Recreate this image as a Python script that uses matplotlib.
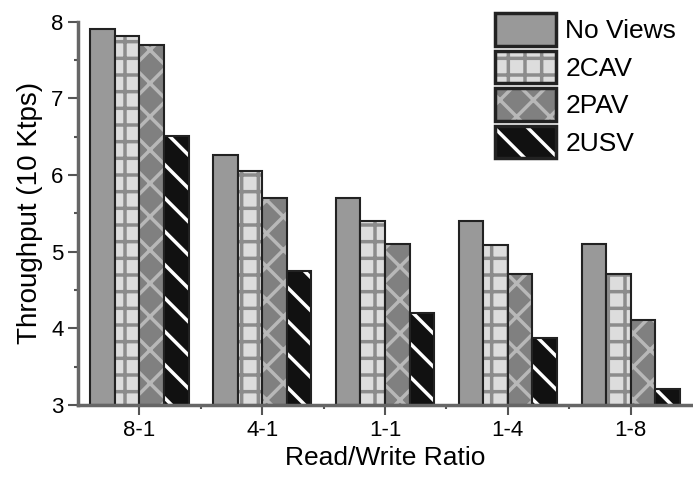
import matplotlib.pyplot as plt
import numpy as np
from matplotlib.patches import Patch

plt.rcParams['font.family'] = ['Liberation Sans', 'DejaVu Sans']
plt.rcParams['hatch.linewidth'] = 2.5

ratios = ['8-1', '4-1', '1-1', '1-4', '1-8']
series = ['No Views', '2CAV', '2PAV', '2USV']
no_views = [7.91, 6.26, 5.70, 5.40, 5.10]
cav = [7.82, 6.05, 5.40, 5.09, 4.71]
pav = [7.70, 5.70, 5.10, 4.71, 4.11]
usv = [6.51, 4.75, 4.20, 3.87, 3.21]

# fill colour, hatch pattern, hatch colour
styles = [('#999999', '', '#999999'),
          ('#dddddd', '+', '#8c8c8c'),
          ('#808080', 'x', '#b8b8b8'),
          ('#111111', '\\', '#ffffff')]

fig = plt.figure(figsize=(6.93, 4.79), dpi=100)
ax = fig.add_axes([0.1126, 0.1545, 0.886, 0.80])

x = np.arange(len(ratios))
w = 0.2
handles = []
for i, (vals, (fc, ht, hc)) in enumerate(zip([no_views, cav, pav, usv], styles)):
    pos = x + (i - 1.5) * w
    ax.bar(pos, np.array(vals) - 3, w, bottom=3, color=fc, hatch=ht,
           edgecolor=hc, linewidth=0)
    ax.bar(pos, np.array(vals) - 3, w, bottom=3, fill=False,
           edgecolor='#222222', linewidth=1.5)
    p1 = Patch(facecolor=fc, hatch=ht, edgecolor=hc, linewidth=0)
    p2 = Patch(fill=False, edgecolor='#222222', linewidth=2.5)
    handles.append((p1, p2))

ax.set_xlim(-0.5, 4.5)
ax.set_ylim(3, 8)
ax.set_xticks(x)
ax.set_xticklabels(ratios, fontsize=16)
ax.set_xticks([0.5, 1.5, 2.5, 3.5], minor=True)
ax.set_yticks([3, 4, 5, 6, 7, 8])
ax.set_yticks([3.5, 4.5, 5.5, 6.5, 7.5], minor=True)
ax.tick_params(axis='y', labelsize=16)
ax.tick_params(which='major', length=7, width=1.5, color='#555555')
ax.tick_params(which='minor', length=3, width=1.5, color='#555555')
ax.set_xlabel('Read/Write Ratio', fontsize=19, labelpad=4)
ax.set_ylabel('Throughput (10 Ktps)', fontsize=20, labelpad=6)

for s in ['top', 'right']:
    ax.spines[s].set_visible(False)
for s in ['left', 'bottom']:
    ax.spines[s].set_color('#666666')
    ax.spines[s].set_linewidth(2.5)

fig.legend(handles, series, loc='upper left', bbox_to_anchor=(0.692, 1.005),
           frameon=False, fontsize=19, handlelength=2.3, handleheight=1.5,
           handletextpad=0.35, labelspacing=0.2, borderaxespad=0.2)

fig.savefig('out.png', dpi=100)
